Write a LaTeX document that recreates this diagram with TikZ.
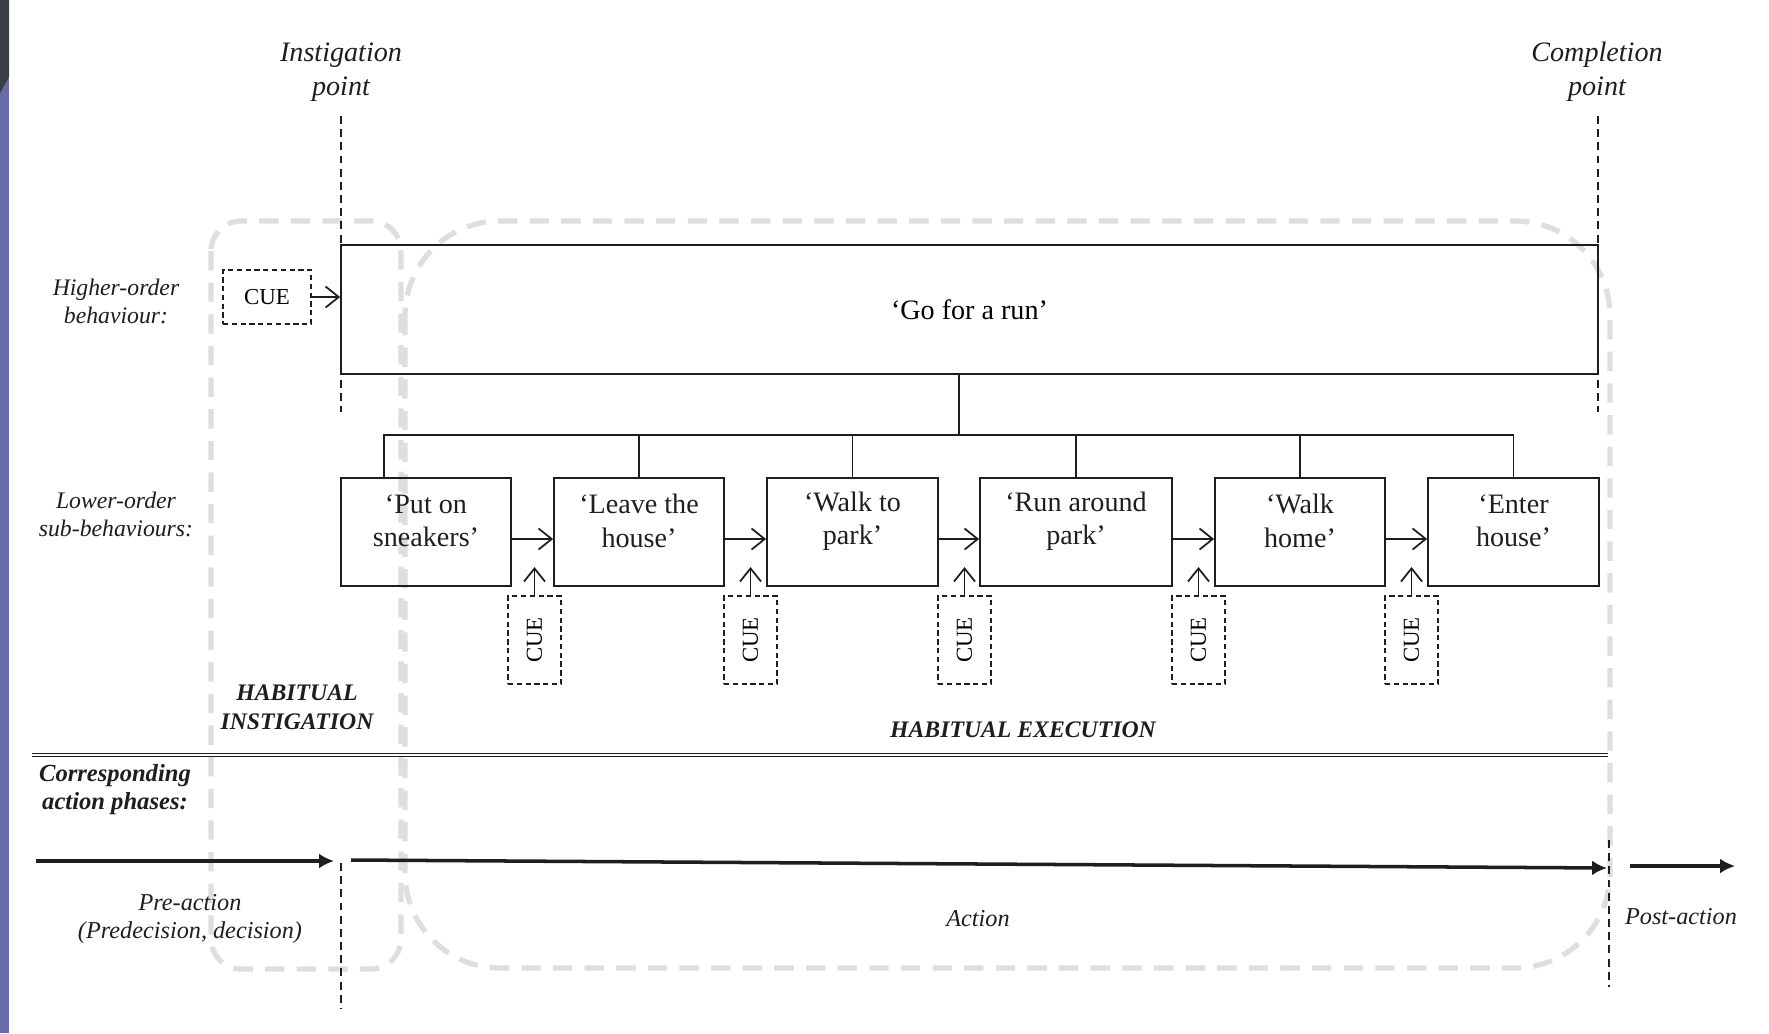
\documentclass[tikz,border=0pt]{standalone}
\usepackage{fontspec}
\setmainfont{Liberation Serif}
\usepackage{graphicx}
\usetikzlibrary{arrows.meta, positioning, calc}
\definecolor{runink}{RGB}{30, 30, 30}
\definecolor{zonegrey}{RGB}{222, 222, 222}
\definecolor{slideblue}{RGB}{104, 108, 170}
\definecolor{slidedark}{RGB}{58, 62, 70}
\tikzset{
  hibox/.style={rectangle, draw=runink, line width=1pt, minimum width=251.4mm,
                minimum height=25.8mm, font=\fontsize{16}{19}\selectfont},
  subbox/.style={rectangle, draw=runink, line width=1pt, minimum width=#1,
                 minimum height=21.6mm},
  subbox/.default=34mm,
  subtxt/.style={align=center, yshift=2.2mm, font=\fontsize{16}{19}\selectfont, text=runink},
  cuebox/.style={rectangle, draw=runink, line width=0.9pt, dash pattern=on 3pt off 2pt,
                 minimum width=17.6mm, minimum height=10.8mm, inner sep=0pt,
                 font=\fontsize{13}{15}\selectfont},
  cuevert/.style={cuebox, minimum width=10.6mm, minimum height=17.6mm},
  flow/.style={-{Straight Barb[length=7.5pt,width=12pt]}, line width=1pt, draw=runink},
  phase/.style={-{Latex[length=8.5pt,width=8.5pt]}, line width=2pt, draw=runink},
  pointline/.style={draw=runink, line width=1pt, dash pattern=on 4.5pt off 3pt},
  tree/.style={draw=runink, line width=1pt},
  habitzone/.style={draw=zonegrey, line width=3pt, dash pattern=on 11pt off 7pt, rounded corners=#1},
  sidelbl/.style={align=center, font=\fontsize{13.5}{16}\selectfont\itshape, text=runink},
  ptlbl/.style={align=center, font=\fontsize{16}{19.5}\selectfont\itshape, text=runink},
  zonelbl/.style={align=center, font=\fontsize{13.5}{16.5}\selectfont\bfseries\itshape, text=runink},
}

\begin{document}
\begin{tikzpicture}[x=0.2mm, y=-0.2mm]
\useasboundingbox (0,0) rectangle (1769,1033);
\fill[slideblue] (0,0) rectangle (9,1033);
\fill[slidedark] (0,0) -- (9,0) -- (9,77) -- (0,93) -- cycle;

\draw[habitzone=6mm] (211,221) rectangle (401,969);
\draw[habitzone=19mm] (405,221) rectangle (1610,968);

\node[ptlbl] (instlbl) at (341,72) {Instigation\\point};
\node[ptlbl] (complbl) at (1597,72) {Completion\\point};
\coordinate (inst0) at (341,116);
\coordinate (inst1) at (341,412);
\coordinate (inst2) at (341,863);
\coordinate (inst3) at (341,1009);
\coordinate (comp0) at (1598,116);
\coordinate (comp1) at (1598,412);
\coordinate (comp2) at (1609,840);
\coordinate (comp3) at (1609,987);
\draw[pointline] (inst0) -- (inst1);
\draw[pointline] (inst2) -- (inst3);
\draw[pointline] (comp0) -- (comp1);
\draw[pointline] (comp2) -- (comp3);

\node[sidelbl] (hilbl) at (116,301) {Higher-order\\behaviour:};
\node[sidelbl] (lolbl) at (116,514) {Lower-order\\sub-behaviours:};

\node[hibox] (high) at (969.5,309.5) {‘Go for a run’};
\node[cuebox] (cue0) at (267,297) {CUE};
\draw[flow] (cue0.east) -- (cue0.east -| high.west);

\node[subbox, label={[subtxt]center:{‘Put on\\sneakers’}}] (s1) at (426,532) {};
\node[subbox, label={[subtxt]center:{‘Leave the\\house’}}] (s2) at (639,532) {};
\node[subbox=34.2mm, label={[subtxt]center:{‘Walk to\\park’}}] (s3) at (852.5,532) {};
\node[subbox=38.4mm, label={[subtxt]center:{‘Run around\\park’}}] (s4) at (1076,532) {};
\node[subbox, label={[subtxt]center:{‘Walk\\home’}}] (s5) at (1300,532) {};
\node[subbox=34.2mm, label={[subtxt]center:{‘Enter\\house’}}] (s6) at (1513.5,532) {};

\coordinate (fork) at (959,435);
\draw[tree] (high.south -| fork) -- (fork);
\draw[tree] ([xshift=-8.4mm]s1.north) |- (fork) -| (s6.north);
\foreach \k in {2,...,5}
  \draw[tree] (s\k.north) -- (s\k.north |- fork);

\foreach \a/\b in {1/2,2/3,3/4,4/5,5/6}
  \draw[flow] ([yshift=-1.4mm]s\a.east) -- ([yshift=-1.4mm]s\b.west);

\coordinate (cuetip) at (0,567);
\foreach \k/\x in {1/534.5,2/750.5,3/964.5,4/1198.5,5/1411.5}{
  \node[cuevert] (cue\k) at (\x,640) {\rotatebox{90}{CUE}};
  \draw[flow] (cue\k.north) -- (cue\k.north |- cuetip);
}

\node[zonelbl] (instzone) at (297,707) {HABITUAL\\INSTIGATION};
\node[zonelbl] (execzone) at (1023,730) {HABITUAL EXECUTION};

\coordinate (split0) at (32,755);
\coordinate (split1) at (1608,755);
\draw[draw=runink, double=white, double distance=1.3pt, line width=0.7pt] (split0) -- (split1);

\node[zonelbl, font=\fontsize{14}{16}\selectfont\bfseries\itshape] (phaselbl) at (115,790)
  {Corresponding\\action phases:};

\coordinate (pre0) at (36,861);
\coordinate (pre1) at (334,861);
\coordinate (act0) at (351,860);
\coordinate (act1) at (1607,868);
\coordinate (post0) at (1630,866);
\coordinate (post1) at (1735,866);
\draw[phase] (pre0) -- (pre1);
\draw[phase] (act0) -- (act1);
\draw[phase] (post0) -- (post1);

\node[sidelbl, font=\fontsize{13.8}{16}\selectfont\itshape] (prelbl) at (190,919)
  {Pre-action\\(Predecision, decision)};
\node[sidelbl, font=\fontsize{13.8}{16}\selectfont\itshape] (actlbl) at (978,919) {Action};
\node[sidelbl, font=\fontsize{13.8}{16}\selectfont\itshape] (postlbl) at (1681,917) {Post-action};
\end{tikzpicture}
\end{document}
